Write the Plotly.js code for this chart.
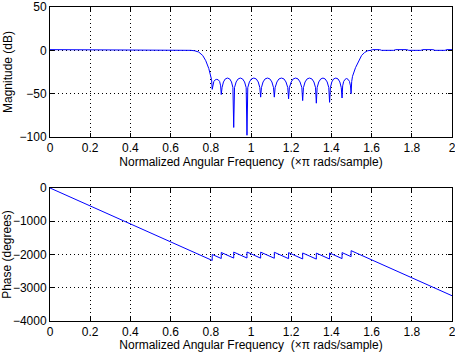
<!DOCTYPE html>
<html>
<head>
<meta charset="utf-8">
<script src="https://cdn.plot.ly/plotly-3.0.1.min.js"></script>
<style>
html,body{margin:0;padding:0;background:#fff;}
#chart{width:455px;height:352px;}
</style>
</head>
<body>
<div id="chart"></div>
<script>
// Magnitude response (normalized frequency x pi rad/sample, dB)
var magFreq = [
  0, 0.045, 0.06, 0.11, 0.125, 0.175, 0.19, 0.25, 0.262, 0.318, 0.33, 0.395, 0.405, 0.455, 0.47,
  0.525, 0.535, 0.595, 0.605, 0.65, 0.66, 0.69, 0.70, 0.72, 0.74, 0.76, 0.775, 0.79, 0.80, 0.804,
  0.807, 0.810, 0.815, 0.822, 0.8295, 0.837, 0.844, 0.849,
  0.852, 0.856, 0.863, 0.872, 0.883, 0.894, 0.903, 0.910,
  0.914, 0.918, 0.926, 0.936, 0.947, 0.958, 0.968, 0.976,
  0.980, 0.984, 0.992, 1.002, 1.014, 1.026, 1.036, 1.044,
  1.048, 1.052, 1.060, 1.070, 1.082, 1.094, 1.104, 1.112,
  1.116, 1.120, 1.129, 1.139, 1.1515, 1.164, 1.174, 1.183,
  1.187, 1.191, 1.200, 1.210, 1.222, 1.234, 1.244, 1.253,
  1.257, 1.261, 1.269, 1.279, 1.291, 1.303, 1.313, 1.321,
  1.325, 1.329, 1.337, 1.347, 1.358, 1.369, 1.379, 1.387,
  1.391, 1.395, 1.402, 1.411, 1.422, 1.433, 1.442, 1.449,
  1.453, 1.456, 1.461, 1.468, 1.4755, 1.483, 1.490, 1.495,
  1.498, 1.501, 1.505, 1.52, 1.535, 1.55, 1.565, 1.58, 1.595, 1.605, 1.64, 1.65, 1.71, 1.72,
  1.775, 1.785, 1.845, 1.855, 1.905, 1.915, 1.965, 1.975, 2.0
];
var magDb = [
  0.8, 0.8, 0, 0, 0.8, 0.8, 0, 0, 0.8, 0.8, 0, 0, 0.8, 0.8, 0,
  0, 0.8, 0.8, 0, 0, 0.8, 0.8, 0, -0.5, -2, -6, -12, -21, -29, -34,
  -45, -40, -36, -34, -33.5, -34, -36, -41,
  -51, -43, -36.5, -33, -32, -33, -36.5, -43,
  -89, -43, -36.5, -33, -32, -33, -36.5, -43,
  -98, -43, -36.5, -33, -32, -33, -36.5, -43,
  -54, -43, -36.5, -33, -32, -33, -36.5, -43,
  -54, -43, -36.5, -33, -32, -33, -36.5, -43,
  -56, -43, -36.5, -33, -32, -33, -36.5, -43,
  -58, -43, -36.5, -33, -32, -33, -36.5, -43,
  -61, -43, -36.5, -33, -32, -33, -36.5, -43,
  -60, -43, -36.5, -33, -32, -33, -36.5, -43,
  -55, -41, -36, -33.5, -32.5, -33.5, -36, -41,
  -50, -36, -30, -20, -12, -6, -2.5, -0.5, 0, 0.8, 0.8, 0, 0, 0.8,
  0.8, 0, 0, 0.8, 0.8, 0, 0, 0.8, 0.8
];
// Phase response (degrees)
var phaseFreq = [0, 0.807, 0.807, 0.852, 0.852, 0.914, 0.914, 0.980, 0.980, 1.048, 1.048,
  1.116, 1.116, 1.187, 1.187, 1.257, 1.257, 1.325, 1.325, 1.391, 1.391, 1.453, 1.453,
  1.498, 1.498, 2.0];
var phaseDeg = [0, -2179, -1999, -2120, -1940, -2108, -1928, -2106, -1926, -2110, -1930,
  -2113, -1933, -2125, -1945, -2134, -1954, -2138, -1958, -2136, -1956, -2123, -1943,
  -2065, -1885, -3240];

// Tick values and labels
var xTicks = [0, 0.2, 0.4, 0.6, 0.8, 1, 1.2, 1.4, 1.6, 1.8, 2];
var xTickText = ['0', '0.2', '0.4', '0.6', '0.8', '1', '1.2', '1.4', '1.6', '1.8', '2'];
var magTicks = [-100, -50, 0, 50];
var magTickText = ['\u2212100', '\u221250', '0', '50'];
var phaseTicks = [-4000, -3000, -2000, -1000, 0];
var phaseTickText = ['\u22124000', '\u22123000', '\u22122000', '\u22121000', '0'];

var xTitle = 'Normalized Angular Frequency  (×π rads/sample)';
var magTitle = 'Magnitude (dB)';
var phaseTitle = 'Phase (degrees)';

var FONT = 'Liberation Sans, Arial, Helvetica, sans-serif';
var lineStyle = {color: '#0000ff', width: 1};

var traces = [
  {x: magFreq, y: magDb, type: 'scatter', mode: 'lines', line: lineStyle, xaxis: 'x', yaxis: 'y', hoverinfo: 'skip'},
  {x: phaseFreq, y: phaseDeg, type: 'scatter', mode: 'lines', line: lineStyle, xaxis: 'x2', yaxis: 'y2', hoverinfo: 'skip'}
];

var common = {
  showline: true, linecolor: '#000', linewidth: 1, mirror: 'ticks',
  ticks: 'inside', ticklen: 4, tickcolor: '#000',
  showgrid: true, gridcolor: '#000', griddash: '1px,3px', gridwidth: 1,
  zeroline: false, tickfont: {family: FONT, size: 12, color: '#000'},
  ticklabeloverflow: 'allow', fixedrange: true, tickmode: 'array'
};
function xAx(anchor) {
  return Object.assign({}, common, {
    anchor: anchor, domain: [0, 1], range: [0, 2],
    tickvals: xTicks, ticktext: xTickText,
    title: {text: xTitle, font: {family: FONT, size: 12, color: '#000'}, standoff: 2}
  });
}
function yAx(anchor, domain, range, vals, text, title) {
  return Object.assign({}, common, {
    anchor: anchor, domain: domain, range: range,
    tickvals: vals, ticktext: text,
    title: {text: title, font: {family: FONT, size: 12, color: '#000'}, standoff: 4}
  });
}

var layout = {
  width: 455, height: 352,
  margin: {l: 50, r: 3, t: 7, b: 31},
  paper_bgcolor: '#fff', plot_bgcolor: '#fff',
  showlegend: false,
  xaxis: xAx('y'),
  yaxis: yAx('x', [0.586, 1], [-100, 50], magTicks, magTickText, magTitle),
  xaxis2: xAx('y2'),
  yaxis2: yAx('x2', [0, 0.4236], [-4000, 0], phaseTicks, phaseTickText, phaseTitle)
};

Plotly.newPlot('chart', traces, layout, {displayModeBar: false, staticPlot: true});
</script>
</body>
</html>
